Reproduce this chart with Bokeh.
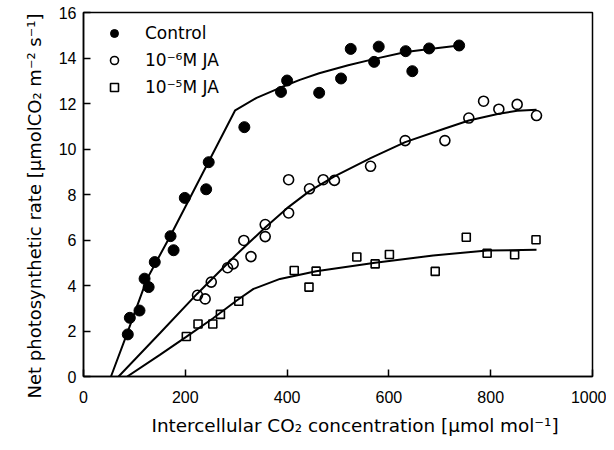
from bokeh.plotting import figure
from bokeh.models import Range1d, FixedTicker, Legend, LegendItem, Title
from bokeh.embed import file_html
from bokeh.resources import INLINE

# Measured points
ctrl_x = [87, 91, 110, 120, 128, 140, 171, 177, 199, 241, 246, 316, 388, 400, 463, 506, 525, 571, 580, 633, 646, 679, 738]
ctrl_y = [1.85, 2.58, 2.9, 4.3, 3.93, 5.03, 6.17, 5.55, 7.85, 8.23, 9.42, 10.96, 12.51, 13.01, 12.47, 13.1, 14.4, 13.83, 14.5, 14.3, 13.42, 14.42, 14.55]

ja6_x = [224, 239, 251, 283, 294, 315, 329, 357, 357, 403, 403, 444, 471, 493, 564, 632, 710, 757, 786, 816, 852, 890]
ja6_y = [3.57, 3.41, 4.15, 4.78, 4.95, 5.98, 5.27, 6.68, 6.15, 7.19, 8.65, 8.25, 8.65, 8.62, 9.24, 10.37, 10.37, 11.36, 12.1, 11.75, 11.96, 11.47]

ja5_x = [202, 225, 254, 269, 305, 414, 443, 457, 537, 573, 601, 691, 752, 793, 847, 889]
ja5_y = [1.76, 2.31, 2.31, 2.73, 3.31, 4.66, 3.93, 4.63, 5.25, 4.95, 5.36, 4.62, 6.12, 5.42, 5.35, 6.01]

# Fitted curves
ctrl_fit_x = [54, 85, 125, 171, 298, 340, 386, 425, 463, 520, 570, 633, 680, 738]
ctrl_fit_y = [0, 1.85, 4.3, 6.2, 11.7, 12.25, 12.69, 13.04, 13.33, 13.68, 13.95, 14.26, 14.4, 14.55]

ja6_fit_x = [69, 150, 223, 300, 357, 400, 444, 493, 564, 632, 710, 757, 816, 852, 890]
ja6_fit_y = [0, 1.9, 3.63, 5.35, 6.55, 7.4, 8.15, 8.8, 9.6, 10.3, 10.9, 11.25, 11.55, 11.68, 11.72]

ja5_fit_x = [86, 150, 201, 254, 301, 334, 386, 457, 573, 687, 793, 890]
ja5_fit_y = [0, 0.95, 1.73, 2.55, 3.34, 3.85, 4.29, 4.63, 5.0, 5.32, 5.54, 5.57]

x_ticks = [0, 200, 400, 600, 800, 1000]
y_ticks = [0, 2, 4, 6, 8, 10, 12, 14, 16]

labels = ["Control", "10\u207b\u2076M JA", "10\u207b\u2075M JA"]
x_title = "Intercellular CO\u2082 concentration [\u00b5mol mol\u207b\u00b9]"
y_title = "Net photosynthetic rate [\u00b5molCO\u2082 m\u207b\u00b2 s\u207b\u00b9]"

p = figure(width=606, height=446, output_backend="svg", toolbar_location=None,
           x_range=Range1d(0, 1000), y_range=Range1d(0, 16),
           min_border_left=83, min_border_right=14, min_border_top=12, min_border_bottom=70)

p.xgrid.visible = False
p.ygrid.visible = False
p.outline_line_color = "black"
p.outline_line_width = 1.5
p.background_fill_color = "white"

for ax in (p.xaxis[0], p.yaxis[0]):
    ax.axis_line_width = 1.5
    ax.major_tick_in = 7
    ax.major_tick_out = 0
    ax.major_tick_line_width = 1.5
    ax.minor_tick_line_color = None
    ax.major_label_text_font = "Liberation Sans"
    ax.major_label_text_font_size = "16px"
    ax.major_label_text_color = "black"

p.xaxis.ticker = FixedTicker(ticks=x_ticks)
p.yaxis.ticker = FixedTicker(ticks=y_ticks)
p.xaxis.major_label_standoff = 14
p.yaxis.major_label_standoff = 7

# axis titles as side-panel titles (offset from the frame edge as in the reference)
p.add_layout(Title(text=x_title, align="left", offset=68, standoff=15,
                   text_font="DejaVu Sans", text_font_size="18.4px",
                   text_font_style="normal", text_color="black"), "below")
p.add_layout(Title(text=y_title, align="left", offset=-22, standoff=21,
                   text_font="DejaVu Sans", text_font_size="18px",
                   text_font_style="normal", text_color="black"), "left")

p.line(ctrl_fit_x, ctrl_fit_y, line_color="black", line_width=2)
p.line(ja6_fit_x, ja6_fit_y, line_color="black", line_width=2)
p.line(ja5_fit_x, ja5_fit_y, line_color="black", line_width=2)

r1 = p.scatter(ctrl_x, ctrl_y, marker="circle", size=11, fill_color="black", line_color="black")
r2 = p.scatter(ja6_x, ja6_y, marker="circle", size=10, fill_color=None, line_color="black", line_width=1.6)
r3 = p.scatter(ja5_x, ja5_y, marker="square", size=8, fill_color=None, line_color="black", line_width=1.6)

legend = Legend(items=[LegendItem(label=labels[0], renderers=[r1]),
                       LegendItem(label=labels[1], renderers=[r2]),
                       LegendItem(label=labels[2], renderers=[r3])],
                location=(21, 279), margin=0, padding=0, spacing=7,
                glyph_width=20, glyph_height=20, label_height=20, label_standoff=21,
                label_text_font="DejaVu Sans", label_text_font_size="17px",
                label_text_color="black",
                border_line_color=None, background_fill_alpha=0)
p.add_layout(legend)

open("out.html", "w").write(file_html(p, INLINE))
